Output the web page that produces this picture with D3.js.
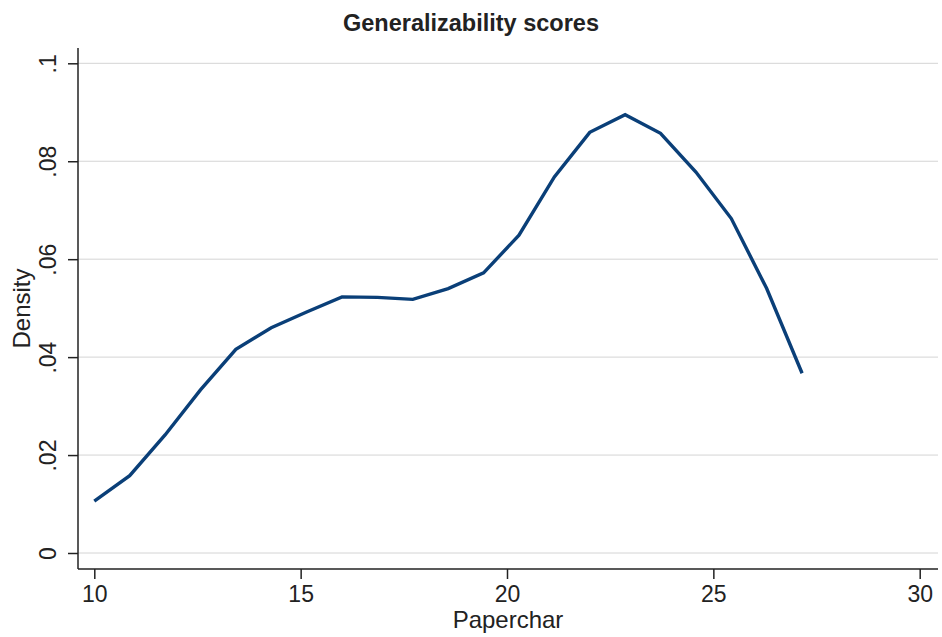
<!DOCTYPE html>
<html>
<head>
<meta charset="utf-8">
<script src="https://cdn.jsdelivr.net/npm/d3@7"></script>
<style>
  body { margin: 0; background: #fff; }
  text { font-family: "Liberation Sans", Arial, Helvetica, sans-serif; fill: #222; }
</style>
</head>
<body>
<svg id="chart" width="942" height="637"></svg>
<script>
// Kernel density of paperchar
const xStart = 10;
const xStep = 0.8575;
const density = [
  0.0106, 0.0158, 0.0241, 0.0333, 0.0416, 0.0460, 0.0492, 0.0523, 0.0522, 0.0518,
  0.0540, 0.0572, 0.0649, 0.0768, 0.0859, 0.0895, 0.0857, 0.0778, 0.0683, 0.0540,
  0.0367
];
const xTicks = [10, 15, 20, 25, 30];
const yTicks = [0, 0.02, 0.04, 0.06, 0.08, 0.1];
const yTickLabels = ["0", ".02", ".04", ".06", ".08", ".1"];

const points = density.map((d, i) => ({ x: xStart + i * xStep, y: d }));

const svg = d3.select("#chart");

// plot region
const plot = { left: 78, right: 938, top: 48, bottom: 569 };

const x = d3.scaleLinear().domain([10, 30]).range([94.3, 919.7]);
const y = d3.scaleLinear().domain([0, 0.1]).range([553, 63.3]);

// gridlines
svg.append("g")
  .selectAll("line")
  .data(yTicks)
  .enter()
  .append("line")
  .attr("x1", plot.left)
  .attr("x2", plot.right)
  .attr("y1", d => y(d))
  .attr("y2", d => y(d))
  .attr("stroke", "#d4d4d4")
  .attr("stroke-width", 1);

// y axis
const yAxis = svg.append("g")
  .attr("transform", `translate(${plot.left},0)`)
  .call(d3.axisLeft(y).tickValues(yTicks).tickSize(10).tickFormat((d, i) => yTickLabels[i]));
yAxis.select(".domain").remove();
yAxis.selectAll(".tick line").attr("stroke", "#222").attr("stroke-width", 1.5);
yAxis.selectAll(".tick text")
  .attr("transform", "rotate(-90)")
  .attr("x", 0)
  .attr("y", -22)
  .attr("dy", 0)
  .attr("text-anchor", "middle")
  .style("font-size", "23px")
  .style("font-family", "'Liberation Sans', Arial, sans-serif")
  .attr("fill", "#222");

// x axis
const xAxis = svg.append("g")
  .attr("transform", `translate(0,${plot.bottom})`)
  .call(d3.axisBottom(x).tickValues(xTicks).tickSize(10).tickFormat(d3.format("d")));
xAxis.select(".domain").remove();
xAxis.selectAll(".tick line").attr("stroke", "#222").attr("stroke-width", 1.5);
xAxis.selectAll(".tick text")
  .attr("y", 33)
  .attr("dy", 0)
  .style("font-size", "23px")
  .style("font-family", "'Liberation Sans', Arial, sans-serif")
  .attr("fill", "#222");

// axis lines
svg.append("line")
  .attr("x1", plot.left).attr("x2", plot.left)
  .attr("y1", plot.top).attr("y2", plot.bottom)
  .attr("stroke", "#222").attr("stroke-width", 1.5);
svg.append("line")
  .attr("x1", plot.left).attr("x2", plot.right)
  .attr("y1", plot.bottom).attr("y2", plot.bottom)
  .attr("stroke", "#222").attr("stroke-width", 1.5);

// density line
const line = d3.line()
  .x(d => x(d.x))
  .y(d => y(d.y));

svg.append("path")
  .datum(points)
  .attr("d", line)
  .attr("fill", "none")
  .attr("stroke", "#0a3f78")
  .attr("stroke-width", 3.4)
  .attr("stroke-linejoin", "miter");

// titles
svg.append("text")
  .attr("x", 471)
  .attr("y", 31)
  .attr("text-anchor", "middle")
  .style("font-size", "23.5px")
  .style("font-weight", "bold")
  .text("Generalizability scores");

svg.append("text")
  .attr("x", (plot.left + plot.right) / 2)
  .attr("y", 628)
  .attr("text-anchor", "middle")
  .style("font-size", "24px")
  .text("Paperchar");

svg.append("text")
  .attr("transform", `translate(29.5,${(plot.top + plot.bottom) / 2}) rotate(-90)`)
  .attr("text-anchor", "middle")
  .style("font-size", "24px")
  .text("Density");
</script>
</body>
</html>
